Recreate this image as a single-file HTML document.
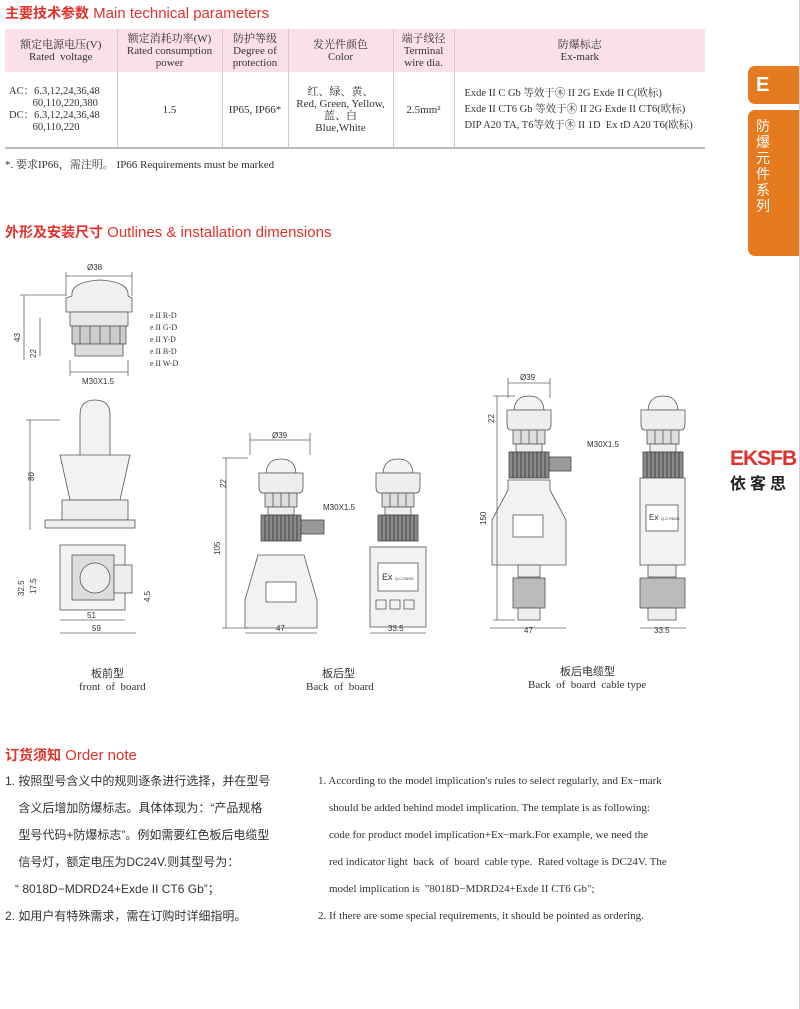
<!DOCTYPE html>
<html><head><meta charset="utf-8"><style>
body{margin:0;background:#fff;}
#p{position:relative;width:800px;height:1009px;overflow:hidden;font-family:"Liberation Serif","Noto Serif CJK SC",serif;color:#333;}
.t{position:absolute;white-space:nowrap;}
.h{color:#e0312b;font-family:"Liberation Sans","Noto Sans CJK SC",sans-serif;font-size:15px;}
.h b{font-weight:bold;font-size:14px}
table{position:absolute;left:5px;top:29px;width:700px;table-layout:fixed;border-collapse:collapse;font-size:11px;line-height:12px;text-align:center;}
td{border-left:1px solid #ccc;padding:0;vertical-align:middle;white-space:nowrap;overflow:hidden;}
td:first-child{border-left:none}
tr.hd td{background:#fbe0ea;height:43px;}
tr.bd td{height:75px;border-bottom:2px solid #bbb;}
.cn{font-family:"Liberation Sans","Noto Sans CJK SC",sans-serif;}
.on{font-size:12px;line-height:27px;}
</style></head><body><div id="p">
<div class="t h" style="left:5px;top:3px;"><b>主要技术参数</b> Main technical parameters</div>
<table>
<colgroup><col style="width:112px"><col style="width:105px"><col style="width:66px"><col style="width:105px"><col style="width:61px"><col style="width:251px"></colgroup>
<tr class="hd"><td>额定电源电压(V)<br>Rated&nbsp; voltage</td><td>额定消耗功率(W)<br>Rated consumption<br>power</td><td>防护等级<br>Degree of<br>protection</td><td>发光件颜色<br>Color</td><td>端子线径<br>Terminal<br>wire dia.</td><td>防爆标志<br>Ex-mark</td></tr>
<tr class="bd"><td style="text-align:left;padding-left:4px;font-size:10.5px">AC：6.3,12,24,36,48<br>&nbsp;&nbsp;&nbsp;&nbsp;&nbsp;&nbsp;&nbsp;&nbsp;&nbsp;60,110,220,380<br>DC：6.3,12,24,36,48<br>&nbsp;&nbsp;&nbsp;&nbsp;&nbsp;&nbsp;&nbsp;&nbsp;&nbsp;60,110,220</td><td>1.5</td><td>IP65, IP66*</td><td>红、绿、黄、<br>Red, Green, Yellow,<br>蓝、白<br>Blue,White</td><td>2.5mm²</td><td style="text-align:left;padding-left:10px;line-height:16px;font-size:10.5px">Exde II C Gb 等效于㊍ II 2G Exde II C(欧标)<br>Exde II CT6 Gb 等效于㊍ II 2G Exde II CT6(欧标)<br>DIP A20 TA, T6等效于㊍ II 1D&nbsp; Ex tD A20 T6(欧标)</td></tr>
</table>
<div class="t" style="left:5px;top:156px;font-size:11px">*. 要求IP66，需注明。 IP66 Requirements must be marked</div>

<div style="position:absolute;left:748px;top:66px;width:56px;height:38px;background:#e67a1e;border-radius:7px;color:#fff;font:bold 20px 'Liberation Sans',sans-serif;padding-left:8px;box-sizing:border-box;line-height:38px">E</div>
<div style="position:absolute;left:748px;top:110px;width:60px;height:146px;background:#e67a1e;border-radius:7px;color:#fff;font:14px 'Noto Sans CJK SC',sans-serif;line-height:16px;padding:8px 0 0 8px;box-sizing:border-box;"><div style="width:15px">防爆元件系列</div></div>
<div style="position:absolute;left:799px;top:0;width:1px;height:1009px;background:#e8c8d0"></div>
<div class="t" style="left:730px;top:447px;color:#e0312b;font:bold 21px 'Liberation Sans',sans-serif;letter-spacing:-1px">EKSFB</div>
<div class="t" style="left:730px;top:470px;color:#222;font:bold 16px 'Noto Sans CJK SC',sans-serif;letter-spacing:4px">依客思</div>

<div class="t h" style="left:5px;top:222px;"><b>外形及安装尺寸</b> Outlines &amp; installation dimensions</div>

<svg style="position:absolute;left:0;top:0" width="800" height="1009" font-family="Liberation Sans,sans-serif" font-size="8" fill="none" stroke="#555" stroke-width="0.8">
<defs>
<g id="lamp">
<path d="M-15,0 Q-14,-14 0,-14 Q14,-14 15,0 Z" fill="#f4f4f4"/>
<path d="M-22,0 L22,0 L22,14 Q22,20 18,20 L-18,20 Q-22,20 -22,14 Z" fill="#eee"/>
<rect x="-16" y="20" width="32" height="14" fill="#ddd"/>
<path d="M-8,20 V34 M0,20 V34 M8,20 V34"/>
<rect x="-13" y="34" width="26" height="8" fill="#eee"/>
<rect x="-20" y="42" width="40" height="26" fill="#8a8a8a" stroke="#444"/>
<path d="M-16,42 V68 M-12,42 V68 M-8,42 V68 M-4,42 V68 M0,42 V68 M4,42 V68 M8,42 V68 M12,42 V68 M16,42 V68" stroke="#333"/>
</g>
</defs>
<path d="M72,296 Q70,282 100,280 Q130,282 128,296 L132,298 L132,312 L66,312 L66,298 Z" fill="#f0f0f0"/>
<rect x="70" y="312" width="58" height="14" fill="#e8e8e8"/>
<rect x="72" y="326" width="54" height="18" fill="#ccc"/>
<path d="M80,326V344M90,326V344M100,326V344M110,326V344M120,326V344"/>
<rect x="75" y="344" width="48" height="12" fill="#ddd"/>
<path d="M66,276H132M66,272V296M132,272V296" stroke="#666"/>
<text x="87" y="270" fill="#333" stroke="none">Ø38</text>
<path d="M24,295V360M20,295H66M40,318V356" stroke="#666"/>
<text x="8" y="330" fill="#333" stroke="none" transform="rotate(-90 20 330)">43</text>
<text x="28" y="350" fill="#333" stroke="none" transform="rotate(-90 36 350)">22</text>
<path d="M70,372H128M70,360V376M128,360V376" stroke="#666"/>
<text x="82" y="384" fill="#333" stroke="none">M30X1.5</text>
<g fill="#333" stroke="none" font-family="Liberation Serif,serif" font-size="8"><text x="150" y="318">e II R-D</text><text x="150" y="330">e II G-D</text><text x="150" y="342">e II Y-D</text><text x="150" y="354">e II B-D</text><text x="150" y="366">e II W-D</text></g>
<path d="M80,455V415Q80,400 95,400Q110,400 110,415V455" fill="#f2f2f2"/>
<path d="M60,455L130,455L120,500L70,500Z" fill="#f2f2f2"/>
<rect x="62" y="500" width="66" height="20" fill="#eee"/>
<rect x="45" y="520" width="90" height="8" fill="#eee"/>
<path d="M30,420V530M26,420H60" stroke="#666"/><text x="28" y="475" fill="#333" stroke="none" transform="rotate(-90 34 475)">80</text>
<rect x="60" y="545" width="65" height="65" fill="#f2f2f2"/>
<rect x="72" y="555" width="42" height="45" fill="#ddd"/>
<circle cx="95" cy="578" r="15" fill="#eee"/>
<rect x="114" y="565" width="18" height="28" fill="#eee"/>
<path d="M60,620H125M60,633H136" stroke="#666"/>
<text x="87" y="618" fill="#333" stroke="none">51</text><text x="92" y="631" fill="#333" stroke="none">59</text>
<text x="18" y="590" fill="#333" stroke="none" transform="rotate(-90 24 590)">32.5</text>
<text x="32" y="590" fill="#333" stroke="none" transform="rotate(-90 36 590)">17.5</text>
<text x="146" y="598" fill="#333" stroke="none" transform="rotate(-90 150 598)">4.5</text>
<use href="#lamp" x="281" y="473"/>
<use href="#lamp" x="398" y="473"/>
<rect x="301" y="520" width="23" height="14" fill="#999" stroke="#444"/>
<path d="M258,555L304,555L317,600V628H245V600Z" fill="#f2f2f2"/>
<rect x="266" y="582" width="30" height="20" fill="#fff"/>
<rect x="370" y="547" width="56" height="80" fill="#f2f2f2"/>
<rect x="378" y="563" width="40" height="28" fill="#fff"/>
<text x="382" y="580" fill="#333" stroke="none" font-size="9">Ex</text><text x="395" y="580" fill="#333" stroke="none" font-size="4">Q.C.PASS</text>
<path d="M376,600h10v9h-10zM390,600h10v9h-10zM404,600h10v9h-10z"/>
<path d="M250,440H310M250,433V455M310,433V455M226,458V628M222,458H248M222,628H248M245,633H317M370,633H426" stroke="#666"/>
<text x="272" y="438" fill="#333" stroke="none">Ø39</text>
<text x="218" y="480" fill="#333" stroke="none" transform="rotate(-90 226 480)">22</text>
<text x="210" y="545" fill="#333" stroke="none" transform="rotate(-90 220 545)">105</text>
<text x="323" y="510" fill="#333" stroke="none">M30X1.5</text>
<text x="276" y="631" fill="#333" stroke="none">47</text><text x="388" y="631" fill="#333" stroke="none">33.5</text>
<use href="#lamp" x="529" y="410"/>
<use href="#lamp" x="663" y="410"/>
<rect x="549" y="457" width="22" height="14" fill="#999" stroke="#444"/>
<path d="M508,480H550V490L566,520V565H492V520L508,490Z" fill="#f2f2f2"/>
<rect x="513" y="515" width="30" height="22" fill="#fff"/>
<rect x="518" y="565" width="22" height="12" fill="#eee"/><rect x="513" y="578" width="32" height="30" fill="#bbb"/><rect x="518" y="608" width="22" height="12" fill="#eee"/>
<rect x="640" y="478" width="45" height="87" fill="#f2f2f2"/>
<rect x="646" y="505" width="32" height="26" fill="#fff"/>
<text x="649" y="520" fill="#333" stroke="none" font-size="8">Ex</text><text x="661" y="520" fill="#333" stroke="none" font-size="4">Q.C.PASS</text>
<rect x="648" y="565" width="28" height="12" fill="#eee"/><rect x="640" y="578" width="45" height="30" fill="#bbb"/><rect x="648" y="608" width="28" height="12" fill="#eee"/>
<path d="M508,383H550M508,378V398M550,378V398M497,396V620M493,396H515M493,620H515M490,628H566M640,628H686" stroke="#666"/>
<text x="520" y="380" fill="#333" stroke="none">Ø39</text>
<text x="486" y="415" fill="#333" stroke="none" transform="rotate(-90 494 415)">22</text>
<text x="476" y="515" fill="#333" stroke="none" transform="rotate(-90 486 515)">150</text>
<text x="587" y="447" fill="#333" stroke="none">M30X1.5</text>
<text x="524" y="633" fill="#333" stroke="none">47</text><text x="654" y="633" fill="#333" stroke="none">33.5</text>
</svg>

<div class="t cn" style="left:91px;top:665px;font-size:11px">板前型</div>
<div class="t" style="left:79px;top:681px;font-size:11px">front&nbsp; of&nbsp; board</div>
<div class="t cn" style="left:322px;top:665px;font-size:11px">板后型</div>
<div class="t" style="left:306px;top:681px;font-size:11px">Back&nbsp; of&nbsp; board</div>
<div class="t cn" style="left:560px;top:663px;font-size:11px">板后电缆型</div>
<div class="t" style="left:528px;top:679px;font-size:11px">Back&nbsp; of&nbsp; board&nbsp; cable type</div>

<div class="t h" style="left:5px;top:745px;"><b>订货须知</b> Order note</div>
<div class="t cn on" style="left:5px;top:768px;">1. 按照型号含义中的规则逐条进行选择，并在型号<br>&nbsp;&nbsp;&nbsp; 含义后增加防爆标志。具体体现为：“产品规格<br>&nbsp;&nbsp;&nbsp; 型号代码+防爆标志”。例如需要红色板后电缆型<br>&nbsp;&nbsp;&nbsp; 信号灯，额定电压为DC24V.则其型号为：<br>&nbsp;&nbsp; “ 8018D−MDRD24+Exde II CT6 Gb”；<br>2. 如用户有特殊需求，需在订购时详细指明。</div>
<div class="t on" style="left:318px;top:768px;font-size:11px;">1. According to the model implication's rules to select regularly, and Ex−mark<br>&nbsp;&nbsp;&nbsp; should be added behind model implication. The template is as following:<br>&nbsp;&nbsp;&nbsp; code for product model implication+Ex−mark.For example, we need the<br>&nbsp;&nbsp;&nbsp; red indicator light&nbsp; back&nbsp; of&nbsp; board&nbsp; cable type.&nbsp; Rated voltage is DC24V. The<br>&nbsp;&nbsp;&nbsp; model implication is&nbsp; "8018D−MDRD24+Exde II CT6 Gb";<br>2. If there are some special requirements, it should be pointed as ordering.</div>
</div></body></html>
